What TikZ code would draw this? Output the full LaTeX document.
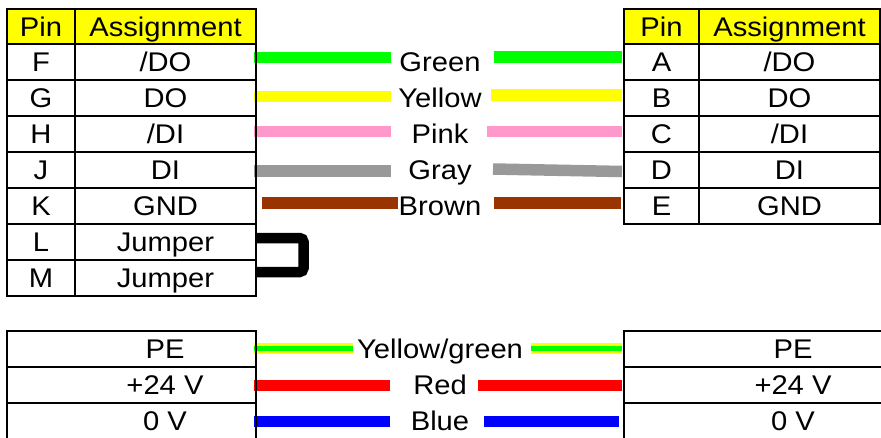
\documentclass[tikz,border=0pt]{standalone}
\usepackage{fontspec}
\setmainfont{Liberation Sans}[FakeStretch=1.08]
\definecolor{wgreen}{HTML}{00FF00}
\definecolor{wyellow}{HTML}{FFFF00}
\definecolor{wpink}{HTML}{FF99CC}
\definecolor{wgray}{HTML}{999999}
\definecolor{wbrown}{HTML}{993300}
\definecolor{wred}{HTML}{FF0000}
\definecolor{wblue}{HTML}{0000FF}
\tikzset{
  txt/.style={inner sep=0pt, font=\fontsize{27}{30}\selectfont, text height=19.4pt, text depth=0pt},
  cell/.style={txt, draw, line width=2.5pt, minimum height=36pt},
  hdr/.style={cell, fill=wyellow, minimum height=35pt},
  pincol/.style={minimum width=68pt},
  pincolr/.style={minimum width=75pt},
  asscol/.style={minimum width=181pt},
  wire/.style={line width=11.5pt},
  jumper/.style={line width=10.5pt, rounded corners=4pt},
  grid/.style={line width=2.5pt}
}
\begin{document}
\begin{tikzpicture}[x=1pt,y=-1pt]
\useasboundingbox (0,0) rectangle (881,437);
\clip (0,0) rectangle (881,437);

% ---------------- wire end coordinates (top) ----------------
\coordinate (gL1) at (254,57.5);  \coordinate (gL2) at (391,57.5);
\coordinate (gR1) at (494,57);    \coordinate (gR2) at (622,57);
\coordinate (yL1) at (254,96.5);  \coordinate (yL2) at (391,96.5);
\coordinate (yR1) at (491,95);    \coordinate (yR2) at (622,95);
\coordinate (pL1) at (254,131.5); \coordinate (pL2) at (391,131.5);
\coordinate (pR1) at (487,131.5); \coordinate (pR2) at (622,131.5);
\coordinate (aL1) at (254,171);   \coordinate (aL2) at (391,171);
\coordinate (aR1) at (493,169);   \coordinate (aR2) at (622,171.5);
\coordinate (bL1) at (262,203);   \coordinate (bL2) at (398,203);
\coordinate (bR1) at (494,203);   \coordinate (bR2) at (621,203);

\draw[wire, wgreen]  (gL1) -- (gL2);  \draw[wire, wgreen]  (gR1) -- (gR2);
\draw[wire, wyellow] (yL1) -- (yL2);  \draw[wire, wyellow] (yR1) -- (yR2);
\draw[wire, wpink]   (pL1) -- (pL2);  \draw[wire, wpink]   (pR1) -- (pR2);
\draw[wire, wgray]   (aL1) -- (aL2);  \draw[wire, wgray]   (aR1) -- (aR2);
\draw[wire, wbrown]  (bL1) -- (bL2);  \draw[wire, wbrown]  (bR1) -- (bR2);

% jumper
\coordinate (j1) at (255,238);
\coordinate (j2) at (255,272);
\draw[jumper] (j1) -- (303.5,238) -- (303.5,272) -- (j2);

% ---------------- bottom wires ----------------
\coordinate (eL1) at (254,348.5); \coordinate (eL2) at (353,348.5);
\coordinate (eR1) at (531,348.5); \coordinate (eR2) at (622,348.5);
\coordinate (rL1) at (254,385.5); \coordinate (rL2) at (390,385.5);
\coordinate (rR1) at (478,385.5); \coordinate (rR2) at (622,385.5);
\coordinate (uL1) at (254,421.5); \coordinate (uL2) at (390,421.5);
\coordinate (uR1) at (484,421.5); \coordinate (uR2) at (619,421.5);

\draw[wire, wyellow] (eL1) -- (eL2);  \draw[wire, wyellow] (eR1) -- (eR2);
\draw[line width=5.5pt, wgreen] (eL1) -- (eL2);  \draw[line width=5.5pt, wgreen] (eR1) -- (eR2);
\draw[wire, wred]  (rL1) -- (rL2);  \draw[wire, wred]  (rR1) -- (rR2);
\draw[wire, wblue] (uL1) -- (uL2);  \draw[wire, wblue] (uR1) -- (uR2);

% ---------------- left top table ----------------
\node[hdr, pincol] (lpH) at (41,26.5) {Pin};
\node[hdr, asscol] (laH) at (165.5,26.5) {Assignment};
\node[cell, pincol] (lp1) at (41,62)  {F};  \node[cell, asscol] (la1) at (165.5,62)  {/DO};
\node[cell, pincol] (lp2) at (41,98)  {G};  \node[cell, asscol] (la2) at (165.5,98)  {DO};
\node[cell, pincol] (lp3) at (41,134) {H};  \node[cell, asscol] (la3) at (165.5,134) {/DI};
\node[cell, pincol] (lp4) at (41,170) {J};  \node[cell, asscol] (la4) at (165.5,170) {DI};
\node[cell, pincol] (lp5) at (41,206) {K};  \node[cell, asscol] (la5) at (165.5,206) {GND};
\node[cell, pincol] (lp6) at (41,242) {L};  \node[cell, asscol] (la6) at (165.5,242) {Jumper};
\node[cell, pincol] (lp7) at (41,278) {M};  \node[cell, asscol] (la7) at (165.5,278) {Jumper};

% ---------------- right top table ----------------
\node[hdr, pincolr] (rpH) at (661.5,26.5) {Pin};
\node[hdr, asscol]  (raH) at (789.5,26.5) {Assignment};
\node[cell, pincolr] (rp1) at (661.5,62)  {A};  \node[cell, asscol] (ra1) at (789.5,62)  {/DO};
\node[cell, pincolr] (rp2) at (661.5,98)  {B};  \node[cell, asscol] (ra2) at (789.5,98)  {DO};
\node[cell, pincolr] (rp3) at (661.5,134) {C};  \node[cell, asscol] (ra3) at (789.5,134) {/DI};
\node[cell, pincolr] (rp4) at (661.5,170) {D};  \node[cell, asscol] (ra4) at (789.5,170) {DI};
\node[cell, pincolr] (rp5) at (661.5,206) {E};  \node[cell, asscol] (ra5) at (789.5,206) {GND};

% ---------------- wire labels ----------------
\node[txt] (lg) at (440,62)  {Green};
\node[txt] (ly) at (440,98)  {Yellow};
\node[txt] (lk) at (440,134) {Pink};
\node[txt] (la) at (440,170) {Gray};
\node[txt] (lb) at (440,206) {Brown};
\node[txt] (le) at (440,349) {Yellow/green};
\node[txt] (lr) at (440,385) {Red};
\node[txt] (lu) at (440,421) {Blue};

% ---------------- bottom tables ----------------
\draw[grid] (7,331) rectangle (256,367);
\draw[grid] (7,367) rectangle (256,403);
\draw[grid] (7,403) rectangle (256,450);
\draw[grid] (624,331) rectangle (890,367);
\draw[grid] (624,367) rectangle (890,403);
\draw[grid] (624,403) rectangle (890,450);

\node[txt] (bl1) at (165,349) {PE};
\node[txt] (bl2) at (165,385) {+24 V};
\node[txt] (bl3) at (165,421) {0 V};
\node[txt] (br1) at (793,349) {PE};
\node[txt] (br2) at (793,385) {+24 V};
\node[txt] (br3) at (793,421) {0 V};
\end{tikzpicture}
\end{document}
